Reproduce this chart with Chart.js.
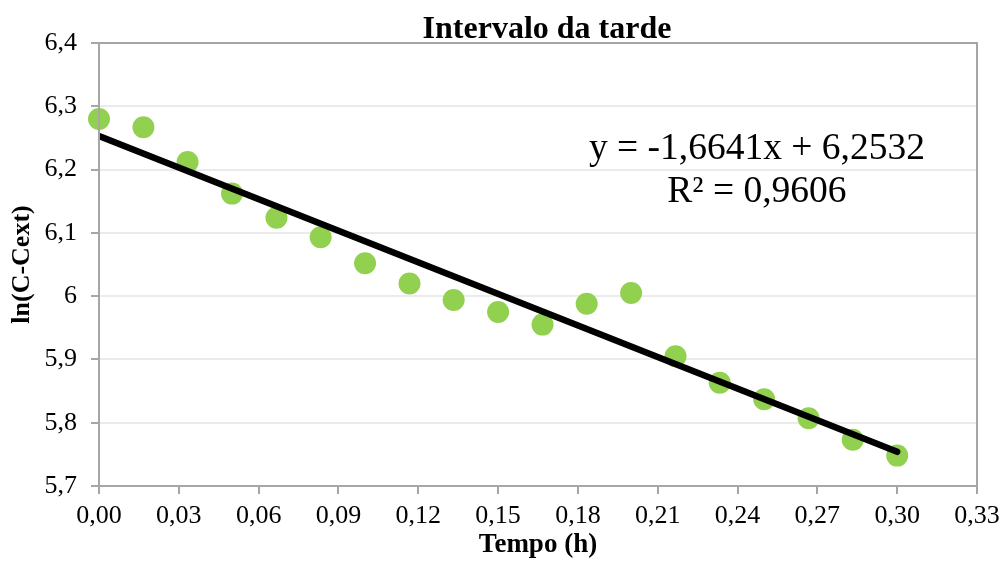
<!DOCTYPE html>
<html>
<head>
    <meta charset="utf-8">
    <title>Intervalo da tarde</title>
    <script src="https://cdn.jsdelivr.net/npm/chart.js"></script>
    <style>
        body { margin: 0; background: #fff; }
        #wrap { width: 1001px; height: 561px; }
    </style>
</head>
<body>
    <div id="wrap"><canvas id="chart" width="1001" height="561"></canvas></div>
    <script>
        // Time (h) and ln(C-Cext) readings
        const tempo = [0, 0.0167, 0.0333, 0.05, 0.0667, 0.0833, 0.1, 0.1167, 0.1333, 0.15,
                       0.1667, 0.1833, 0.2, 0.2167, 0.2333, 0.25, 0.2667, 0.2833, 0.3];
        const lnC = [6.280, 6.267, 6.212, 6.162, 6.124, 6.093, 6.052, 6.020, 5.994, 5.975,
                     5.955, 5.988, 6.005, 5.905, 5.863, 5.837, 5.807, 5.773, 5.748];

        // Linear trendline y = a*x + b
        const slope = -1.6641;
        const intercept = 6.2532;
        const r2 = 0.9606;
        const trendX = [0, 0.3];

        const xTicks = { min: 0, max: 0.33, step: 0.03 };
        const yTicks = { min: 5.7, max: 6.4, step: 0.1 };

        const serif = '"Liberation Serif", "Times New Roman", serif';
        const comma = (n) => n.toFixed(4).replace('.', ',');

        const points = tempo.map((t, i) => ({ x: t, y: lnC[i] }));
        const trend = trendX.map(t => ({ x: t, y: slope * t + intercept }));

        // Frame around the plot, title and equation text
        const extras = {
            id: 'extras',
            afterDraw(chart) {
                const { ctx, chartArea: a, scales } = chart;
                ctx.save();
                ctx.strokeStyle = '#a6a6a6';
                ctx.lineWidth = 2;
                ctx.strokeRect(a.left, a.top, a.right - a.left, a.bottom - a.top);

                ctx.fillStyle = '#000';
                ctx.font = 'bold 32px ' + serif;
                ctx.textAlign = 'center';
                ctx.textBaseline = 'alphabetic';
                ctx.fillText('Intervalo da tarde', 547, 38);

                ctx.font = '37.5px ' + serif;
                const ex = scales.x.getPixelForValue(0.2473);
                ctx.fillText('y = ' + comma(slope) + 'x + ' + comma(intercept), ex, scales.y.getPixelForValue(6.2167));
                ctx.fillText('R² = ' + comma(r2), ex, scales.y.getPixelForValue(6.1488));
                ctx.restore();
            }
        };

        new Chart(document.getElementById('chart'), {
            type: 'scatter',
            data: {
                datasets: [
                    {
                        type: 'line',
                        data: trend,
                        borderColor: '#000',
                        borderWidth: 6.5,
                        borderCapStyle: 'round',
                        pointRadius: 0,
                        order: 0
                    },
                    {
                        data: points,
                        backgroundColor: '#92d050',
                        borderWidth: 0,
                        pointRadius: 11,
                        clip: false,
                        order: 1
                    }
                ]
            },
            options: {
                responsive: false,
                animation: false,
                layout: { padding: { top: 43, right: 24, left: 0, bottom: 0 } },
                plugins: {
                    legend: { display: false },
                    tooltip: { enabled: false }
                },
                scales: {
                    x: {
                        type: 'linear',
                        min: xTicks.min,
                        max: xTicks.max,
                        afterFit: (s) => {
                            s.height = 75;
                            // let the end labels overhang instead of shrinking the plot
                            s.paddingLeft = 0;
                            s.paddingRight = 0;
                        },
                        ticks: {
                            stepSize: xTicks.step,
                            color: '#000',
                            padding: 7,
                            font: { family: serif, size: 26 },
                            callback: (v) => v.toFixed(2).replace('.', ',')
                        },
                        grid: { drawOnChartArea: false, tickLength: 8, tickColor: '#a6a6a6', lineWidth: 2 },
                        border: { color: '#a6a6a6', width: 2 },
                        title: {
                            display: true,
                            text: 'Tempo (h)',
                            color: '#000',
                            padding: { top: 0, bottom: 0 },
                            font: { family: serif, size: 27, weight: 'bold' }
                        }
                    },
                    y: {
                        min: yTicks.min,
                        max: yTicks.max,
                        afterFit: (s) => { s.width = 99; s.paddingTop = 0; s.paddingBottom = 0; },
                        ticks: {
                            stepSize: yTicks.step,
                            color: '#000',
                            padding: 14,
                            font: { family: serif, size: 26 },
                            callback: (v) => String(Math.round(v * 10) / 10).replace('.', ',')
                        },
                        grid: { color: '#ebebeb', lineWidth: 2, tickLength: 8, tickColor: '#a6a6a6' },
                        border: { color: '#a6a6a6', width: 2 },
                        title: {
                            display: true,
                            text: 'ln(C-Cext)',
                            color: '#000',
                            padding: { top: 7, bottom: 0 },
                            font: { family: serif, size: 26, weight: 'bold' }
                        }
                    }
                }
            },
            plugins: [extras]
        });
    </script>
</body>
</html>
